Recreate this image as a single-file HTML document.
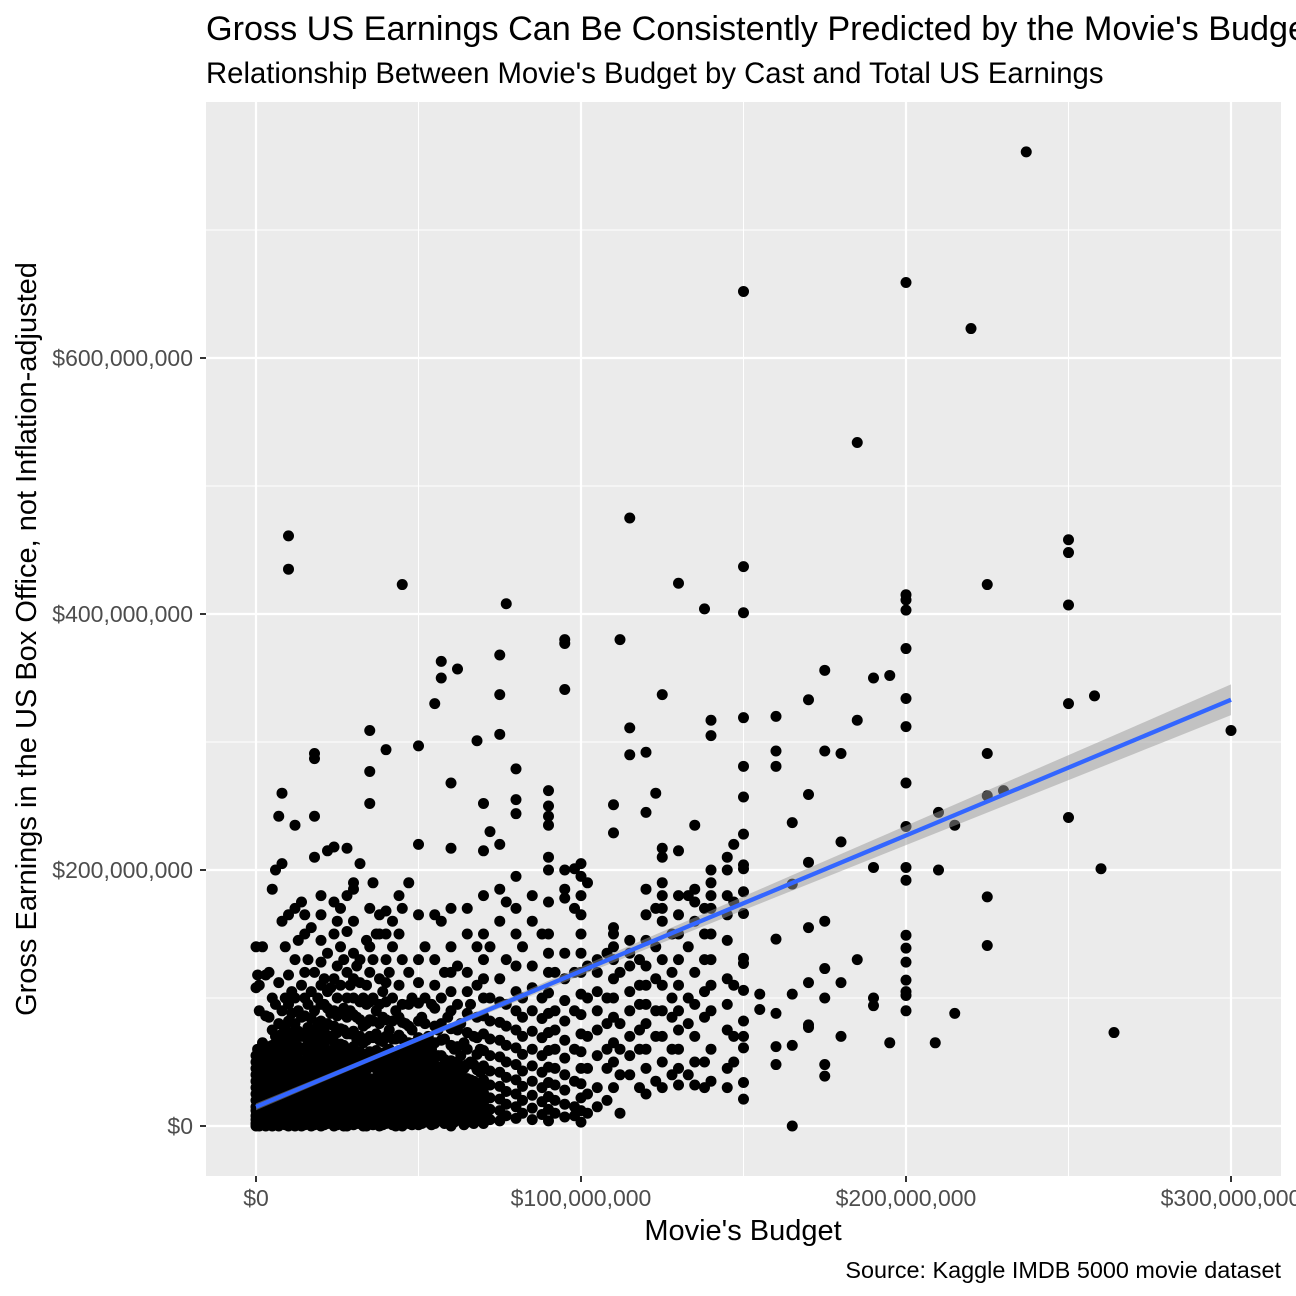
<!DOCTYPE html>
<html><head><meta charset="utf-8"><style>
html,body{margin:0;padding:0;background:#fff;}
svg{display:block;font-family:"Liberation Sans",Arial,sans-serif;}
</style></head><body>
<svg id="chart" width="1296" height="1296" viewBox="0 0 1296 1296" xmlns="http://www.w3.org/2000/svg">
<rect width="1296" height="1296" fill="#fff"/>
<text x="206" y="40" font-size="34.2" fill="#000">Gross US Earnings Can Be Consistently Predicted by the Movie's Budget</text>
<text x="206" y="83" font-size="29.3" fill="#000">Relationship Between Movie's Budget by Cast and Total US Earnings</text>
<rect x="206" y="102" width="1075" height="1074" fill="#ebebeb"/>
<g id="grid"></g>
<g id="points"></g>
<g id="fit"></g>
<g id="axes"></g>
<text x="743" y="1240" font-size="29" text-anchor="middle" fill="#000">Movie's Budget</text>
<text transform="translate(36,639) rotate(-90)" font-size="29" text-anchor="middle" fill="#000">Gross Earnings in the US Box Office, not Inflation-adjusted</text>
<text x="1281" y="1278" font-size="23.4" text-anchor="end" fill="#000">Source: Kaggle IMDB 5000 movie dataset</text>
</svg>
<script>
// values in $ millions
const xTicks = [0, 100, 200, 300];
const xTickLabels = ["$0", "$100,000,000", "$200,000,000", "$300,000,000"];
const yTicks = [0, 200, 400, 600];
const yTickLabels = ["$0", "$200,000,000", "$400,000,000", "$600,000,000"];
const fitIntercept = 15;
const fitSlope = 1.06;
const columnBudgets = [0,0.5,1,2,3,4,5,6,7,8,9,10,11,12,13,14,15,16,17,18,20,22,24,25,26,28,30,32,34,35,36,38,40,42,44,45,47,50,52,55,57,60,62,65,68,70,72,75,77,80,82,85,88,90,92,95,98,100,102,105,108,110,112,115,118,120,123,125,128,130,133,135,138,140,145,147,
19,21,23,27,29,31,33,37,39,41,43,46,48,49,51,53,54,56,58,59,61,63,64,66,67,69];
const columnGross = [
[0,2,5,8,12,15,20,25,30,35,40,45,50,55,108,140],
[1,4,10,18,28,38,48,60,118],
[0,3,7,12,17,22,27,33,40,47,52,90,110],
[1,5,9,14,19,24,30,36,42,50,58,65,140],
[0,4,8,13,18,23,29,35,41,48,57,86,118],
[2,6,11,16,21,26,32,38,45,53,62,85,120],
[0,3,7,12,17,22,27,33,39,46,54,63,75,100,185],
[1,5,10,15,20,26,31,37,44,52,60,70,95,200],
[0,4,9,14,19,24,30,36,43,50,58,67,80,112,242],
[2,6,11,16,22,28,34,40,47,55,63,72,90,160,205,260],
[1,5,10,15,21,27,33,40,48,56,65,77,100,140],
[0,3,8,13,18,24,30,36,43,51,60,70,82,95,118,165,435,461],
[2,6,11,17,23,29,36,44,52,61,73,88,105],
[0,4,9,14,20,26,33,40,48,57,67,80,100,130,170,235],
[1,5,10,16,22,28,35,43,52,62,74,90,145],
[0,3,8,13,19,25,32,40,49,59,70,85,110,175],
[1,5,10,15,21,27,34,42,51,61,72,86,100,120,150,165],
[2,7,12,18,24,31,38,46,55,65,77,95,130],
[0,4,9,14,20,26,33,41,50,60,71,84,105,155],
[1,5,10,16,22,29,36,44,53,63,75,90,120,210,242,287,291],
[0,3,8,13,19,25,32,40,49,59,70,82,95,110,128,145,165,180],
[2,6,11,17,23,30,38,47,57,68,80,92,105,135,215],
[0,4,9,15,21,28,36,45,55,66,78,90,115,150,175,218],
[1,5,10,16,23,31,40,50,61,73,86,100,125,160],
[2,7,13,19,26,34,43,53,64,76,89,110,140,170],
[0,4,9,15,22,30,39,49,60,72,85,100,120,152,180,217],
[1,5,11,17,24,32,41,51,62,74,87,100,115,135,160,185,190],
[2,7,13,20,28,37,47,58,70,83,97,112,130,205],
[0,4,10,17,25,34,44,55,67,80,95,110,145],
[2,7,13,20,28,37,47,58,70,83,97,120,140,170,252,277,309],
[1,6,12,19,27,36,46,57,69,82,100,130,190],
[0,4,10,17,25,34,44,55,67,80,95,115,150,165],
[2,7,13,20,28,37,47,58,70,83,97,112,130,150,168,294],
[1,5,11,18,26,35,45,56,68,82,100,140,160],
[3,8,14,21,29,38,48,59,71,85,110,150,180],
[0,5,11,18,26,35,45,56,68,81,95,130,170,423],
[2,8,15,23,32,42,53,65,78,95,120,190],
[1,6,12,19,27,36,46,57,69,82,96,112,130,165,220,297],
[3,9,16,24,33,43,54,66,80,100,140],
[2,8,15,23,32,42,53,65,78,92,110,130,165,330],
[4,10,17,25,34,44,55,67,80,100,160,363,350],
[0,6,13,21,30,40,51,63,76,90,105,120,140,170,217,268],
[5,12,20,29,39,50,62,75,95,125,357],
[3,10,18,27,37,48,60,73,88,105,120,150,170],
[6,14,23,33,44,56,69,85,110,140,301],
[2,9,17,26,36,47,59,72,86,100,115,130,150,180,215,252],
[5,13,22,32,43,55,68,82,100,140,230],
[4,12,21,31,42,54,67,81,97,115,160,185,220,337,306,368],
[8,17,27,38,50,63,78,95,130,175,408],
[6,15,25,36,48,61,75,90,105,125,150,170,195,244,255,279],
[10,20,31,43,56,70,85,100,140],
[5,14,24,35,47,60,74,90,108,125,160,180],
[9,19,30,42,55,69,84,100,150],
[4,13,23,34,46,59,73,88,104,120,135,150,175,200,210,235,242,250,262],
[10,20,32,45,60,75,90,120],
[7,17,28,40,53,67,82,98,115,135,178,185,200,341,377,380],
[8,15,35,60,90,120,170,201],
[3,12,22,33,45,58,72,87,103,120,135,150,165,180,195,205],
[10,25,45,70,100,125,190],
[15,30,55,75,90,105,120,130],
[20,45,60,80,100,135],
[30,50,65,85,100,115,130,140,150,155,229,251],
[10,40,60,80,120,380],
[40,55,70,90,105,125,135,145,290,311,475],
[30,60,75,95,110,130],
[25,45,60,80,95,110,125,145,165,185,245,292],
[35,70,90,115,140,170,260],
[30,50,70,90,110,130,160,170,180,190,210,217,337],
[40,60,85,100,120,150],
[32,45,60,75,90,110,130,150,165,180,215,424],
[40,80,100,140,180],
[32,50,70,95,120,160,175,185,235],
[30,50,85,105,130,150,170,404],
[35,60,90,110,130,150,170,180,190,200,305,317],
[30,45,75,95,115,145,165,180,200,210],
[50,70,110,175,220],
[2,9,16,23,30,37,44,51,58,66,80,100],
[1,8,15,22,29,36,43,50,57,64,75,95,115],
[3,10,17,24,31,38,45,52,59,70,88,108],
[0,7,14,21,28,35,42,49,56,63,75,92,130],
[4,11,18,25,32,39,46,53,60,72,90,110],
[2,9,16,23,30,37,44,51,58,68,85,125],
[0,7,14,21,28,35,42,49,56,65,78,100],
[3,10,17,24,31,38,45,52,59,72,90,150],
[1,8,15,22,29,36,43,50,57,66,85,105],
[4,11,18,25,32,39,46,53,60,75,120],
[0,7,14,21,28,35,42,49,56,68,90],
[3,10,17,24,31,38,45,52,60,80],
[1,8,15,22,29,36,43,50,58,75,100],
[5,12,19,26,33,40,47,55,65],
[2,9,16,23,30,37,44,52,62,85],
[6,13,20,27,34,41,48,57,70],
[1,8,15,22,29,36,43,50,60,95],
[4,11,18,25,32,39,46,55,75],
[2,9,16,23,30,37,44,52,68,120],
[7,14,21,28,35,42,50,85],
[3,10,17,24,31,38,46,60],
[6,13,20,27,34,42,55,80],
[1,9,17,25,33,45,65],
[5,12,20,28,36,50,95],
[2,10,18,26,35,48,70],
[4,12,20,30,42,60]
];
const extraBudgets = [237,150,200,220,185,150,150,150,150,150,150,150,150,150,150,150,150,150,150,150,150,150,150,155,155,160,160,160,160,160,160,160,165,165,165,165,165,170,170,170,170,170,170,170,175,175,175,175,175,175,175,180,180,180,180,185,185,190,190,190,190,195,195,200,200,200,200,200,200,200,200,200,200,200,200,200,200,200,200,200,209,210,210,215,215,225,225,225,225,225,230,250,250,250,250,250,258,260,264,300];
const extraGross = [761,652,659,623,534,437,401,319,281,257,228,21,34,61,70,82,106,127,131,166,183,204,201,103,91,320,293,281,48,62,88,146,0,63,103,189,237,333,259,77,79,112,155,206,356,293,39,48,100,123,160,291,70,112,222,317,130,350,100,94,202,352,65,415,411,403,373,334,312,268,234,90,102,114,128,139,149,202,192,105,65,245,200,235,88,423,291,258,179,141,262,458,448,407,330,241,336,201,73,309];

const X0 = 256, XS = 3.25, Y0 = 1126, YS = 1.28;
function xScale(v){ return X0 + v * XS; }
function yScale(v){ return Y0 - v * YS; }
const NS = "http://www.w3.org/2000/svg";
function mk(tag, attrs, parent){
  const e = document.createElementNS(NS, tag);
  for (const k in attrs) e.setAttribute(k, attrs[k]);
  parent.appendChild(e);
  return e;
}
const grid = document.getElementById('grid');
for (let i = 0; i < xTicks.length - 1; i++) {
  const v = (xTicks[i] + xTicks[i+1]) / 2;
  const l = mk('line', {x1: xScale(v), x2: xScale(v), y1: 102, y2: 1176, stroke: '#fff', 'stroke-width': 1}, grid);
  
  
}
for (let i = 0; i < yTicks.length; i++) {
  const v = yTicks[i] + 100;
  const l = mk('line', {x1: 206, x2: 1281, y1: yScale(v), y2: yScale(v), stroke: '#fff', 'stroke-width': 1}, grid);
  
  
}
const axes = document.getElementById('axes');
xTicks.forEach((v, i) => {
  const l = mk('line', {x1: xScale(v), x2: xScale(v), y1: 102, y2: 1176, stroke: '#fff', 'stroke-width': 2.2}, grid);
  
  
  const t = mk('line', {x1: xScale(v), x2: xScale(v), y1: 1176, y2: 1182, stroke: '#333', 'stroke-width': 2}, axes);
  
  
  const tx = mk('text', {x: xScale(v), y: 1206, 'font-size': 23, 'text-anchor': 'middle', fill: '#4d4d4d'}, axes);
  tx.textContent = xTickLabels[i];
  
  
});
yTicks.forEach((v, i) => {
  const l = mk('line', {x1: 206, x2: 1281, y1: yScale(v), y2: yScale(v), stroke: '#fff', 'stroke-width': 2.2}, grid);
  
  
  const t = mk('line', {x1: 200, x2: 206, y1: yScale(v), y2: yScale(v), stroke: '#333', 'stroke-width': 2}, axes);
  
  
  const tx = mk('text', {x: 193, y: yScale(v) + 8, 'font-size': 23, 'text-anchor': 'end', fill: '#4d4d4d'}, axes);
  tx.textContent = yTickLabels[i];
  
  
});
const pts = document.getElementById('points');
function addPoint(b, g){
  const c = mk('circle', {cx: xScale(b), cy: yScale(g), r: 5.5, fill: '#000'}, pts);
  
  
}
columnBudgets.forEach((b, i) => columnGross[i].forEach(g => addPoint(b, g)));
extraBudgets.forEach((b, i) => addPoint(b, extraGross[i]));
const xs = [];
for (let v = 0; v <= 300; v += 10) xs.push(v);
function se(v){ return Math.sqrt(4 + 0.00207 * (v - 40) * (v - 40)); }
const up = xs.map(v => xScale(v) + ',' + yScale(fitIntercept + fitSlope * v + se(v)));
const dn = xs.slice().reverse().map(v => xScale(v) + ',' + yScale(fitIntercept + fitSlope * v - se(v)));
const band = mk('polygon', {points: up.concat(dn).join(' '), fill: '#999', 'fill-opacity': 0.5}, document.getElementById('fit'));


const fl = mk('line', {x1: xScale(0), y1: yScale(fitIntercept), x2: xScale(300), y2: yScale(fitIntercept + fitSlope * 300), stroke: '#3366ff', 'stroke-width': 4.3}, document.getElementById('fit'));


</script>
</body></html>
